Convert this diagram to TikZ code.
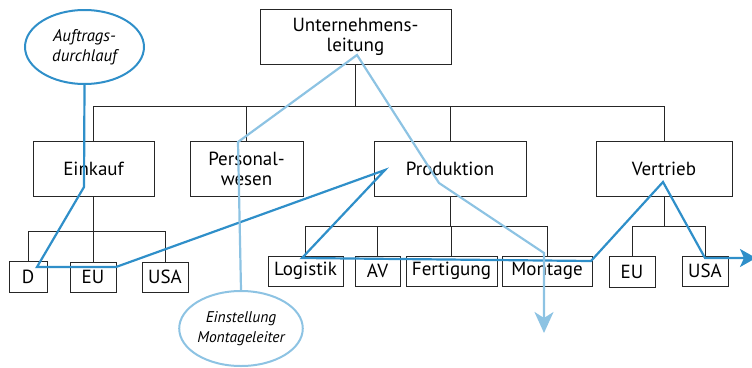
\documentclass[tikz,border=0pt]{standalone}
\usepackage{fontspec}
\setmainfont{PT Sans}
\usetikzlibrary{arrows.meta,shapes.geometric}
\definecolor{flowdark}{HTML}{2F8FC9}
\definecolor{flowlight}{HTML}{8DC3E3}
\tikzset{
  box/.style={draw=black!85, line width=0.9pt, inner sep=0pt, align=center,
    font=\fontsize{19}{20}\selectfont},
  tree/.style={draw=black!85, line width=0.9pt},
  oval/.style={ellipse, line width=2pt, inner sep=0pt, align=center,
    font=\fontsize{16.8}{20}\selectfont\itshape},
  darkflow/.style={draw=flowdark, line width=2.2pt},
  lightflow/.style={draw=flowlight, line width=2.2pt},
}
\begin{document}
\begin{tikzpicture}[x=1pt,y=-1pt]
\useasboundingbox (0,0) rectangle (752,367);

% top level
\node[box, minimum width=191pt, minimum height=55pt] (ul) at (355.5,36.5) {Unternehmens-\\leitung};

% second level
\node[box, minimum width=121pt, minimum height=55pt] (ein)  at (93.5,168.5) {Einkauf};
\node[box, minimum width=113pt, minimum height=55pt] (pers) at (246.5,168.5) {Personal-\\wesen};
\node[box, minimum width=152pt, minimum height=55pt] (prod) at (450,168.5) {Produktion};
\node[box, minimum width=136pt, minimum height=55pt] (vert) at (664,168.5) {Vertrieb};

% third level
\node[box, minimum width=38pt, minimum height=31pt] (d)    at (28,276.5) {D};
\node[box, minimum width=46pt, minimum height=30pt] (eua)  at (93,277) {EU};
\node[box, minimum width=46pt, minimum height=30pt] (usaa) at (165,277) {USA};
\node[box, minimum width=75pt, minimum height=30pt] (log)  at (305.5,271) {Logistik};
\node[box, minimum width=45pt, minimum height=30pt] (av)   at (377.5,271) {AV};
\node[box, minimum width=91pt, minimum height=30pt] (fert) at (451.5,271) {Fertigung};
\node[box, minimum width=90pt, minimum height=30pt] (mont) at (547,271) {Montage};
\node[box, minimum width=46pt, minimum height=31pt] (eub)  at (632,271.5) {EU};
\node[box, minimum width=46pt, minimum height=30pt] (usab) at (705,271) {USA};

% tree connectors
\coordinate (busA) at (0,106);
\draw[tree] (ul.south) -- (ul.south |- busA);
\draw[tree] (ein.north) -- (ein.north |- busA) -| (vert.north);
\draw[tree] (pers.north) -- (pers.north |- busA);
\draw[tree] (prod.north) -- (prod.north |- busA);

\coordinate (busB) at (0,231);
\draw[tree] (ein.south) -- (ein.south |- busB);
\draw[tree] (d.north) -- (d.north |- busB) -| (usaa.north);
\draw[tree] (eua.north) -- (eua.north |- busB);

\coordinate (busC) at (0,226);
\draw[tree] (prod.south) -- (prod.south |- busC);
\draw[tree] (log.north) -- (log.north |- busC) -| (mont.north);
\draw[tree] (av.north) -- (av.north |- busC);
\draw[tree] (fert.north) -- (fert.north |- busC);

\draw[tree] (vert.south) -- (vert.south |- busC);
\draw[tree] (eub.north) -- (eub.north |- busC) -| (usab.north);

% process ovals
\node[oval, draw=flowdark, minimum width=119pt, minimum height=74pt] (auf) at (84.5,47) {Auftrags-\\durchlauf};
\node[oval, draw=flowlight, minimum width=120pt, minimum height=75pt, font=\fontsize{15.5}{20}\selectfont\itshape] (mlt) at (241,328.5) {Einstellung\\Montageleiter};

% bend points of the order flow
\coordinate (a1) at (84,187);
\coordinate (a2) at (37,267);
\coordinate (a3) at (116,267);
\coordinate (a4) at (385,170);
\coordinate (a5) at (302,258);
\coordinate (a6) at (591,261);
\coordinate (a7) at (663,182);
\coordinate (a8) at (705,258);
\coordinate (aend) at (756,258);

\draw[darkflow, -{Stealth[length=16pt,width=18pt,inset=4pt]}]
  (auf.south) -- (a1) -- (a2) -- (a3) -- (a4) -- (a5) -- (a6) -- (a7) -- (a8) -- (aend);

% bend points of the hiring flow
\coordinate (b1) at (238,142);
\coordinate (b2) at (357,55);
\coordinate (b3) at (439,183);
\coordinate (b4) at (544,253);
\coordinate (bend) at (544,333);

\draw[lightflow, -{Stealth[length=21pt,width=19pt,inset=6pt]}]
  (mlt.north) -- (b1) -- (b2) -- (b3) -- (b4) -- (bend);
\end{tikzpicture}
\end{document}
